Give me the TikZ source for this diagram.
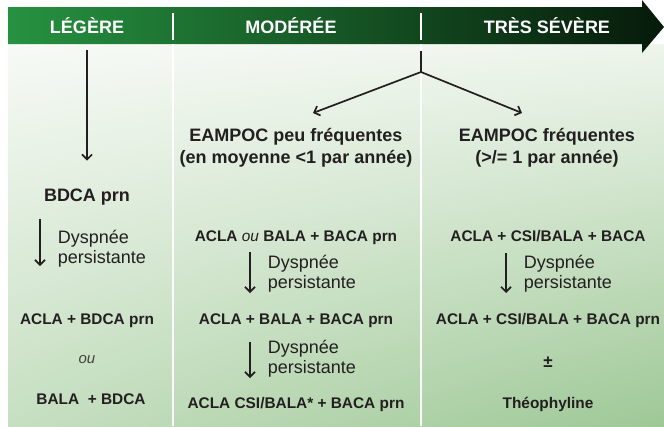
\documentclass[tikz,border=0pt]{standalone}
\usepackage{fontspec}
\setmainfont{Liberation Sans}
\usetikzlibrary{arrows.meta,positioning,shadings}

\definecolor{ink}{RGB}{35,31,32}
\definecolor{barleft}{RGB}{38,146,64}
\definecolor{barright}{RGB}{6,26,10}
\definecolor{paletl}{RGB}{247,250,246}
\definecolor{paletr}{RGB}{238,245,236}
\definecolor{palebl}{RGB}{198,223,193}
\definecolor{palebr}{RGB}{158,200,150}

\begin{document}
\begin{tikzpicture}[x=1pt,y=-1pt,->,>={Straight Barb[length=5pt,width=10pt]},
  line width=1.7pt,color=ink,node distance=83pt,
  every node/.style={text=ink,font=\fontsize{15.4}{18}\selectfont\bfseries,
    text height=11pt,text depth=0pt,inner sep=0pt},
  big node/.style={font=\fontsize{18}{21}\selectfont\bfseries,text height=13pt},
  head node/.style={text=white,font=\fontsize{18}{21}\selectfont\bfseries,text height=13pt},
  note node/.style={anchor=west,align=left,xshift=17pt,
    font=\fontsize{18}{20}\selectfont,text height=,text depth=},
  sep/.style={-,white,line width=2pt}]
  \useasboundingbox (0,0) rectangle (664,426);

  % background and severity bar
  \shade[-,upper left=paletl,upper right=paletr,lower left=palebl,lower right=palebr]
    (8,44) rectangle (664,426);
  \shade[-,left color=barleft,right color=barright]
    (8,7) -- (642,7) -- (642,0) -- (664,27) -- (642,53) -- (642,44) -- (8,44) -- cycle;
  \draw[sep] (173,13) -- (173,40);
  \draw[sep] (421,13) -- (421,40);
  \draw[sep] (173,44) -- (173,426);
  \draw[sep] (421,44) -- (421,426);

  \node[head node] (h1) at (87,27) {LÉGÈRE};
  \node[head node] (h2) at (291,27) {MODÉRÉE};
  \node[head node] (h3) at (547,27) {TRÈS SÉVÈRE};

  % left column
  \node[big node] (1) at (87,195) {BDCA prn};
  \node (2) [below of=1,node distance=124pt] {ACLA + BDCA prn};
  \node[font=\fontsize{15}{18}\selectfont\itshape,text=ink!85] (3) [below of=2,node distance=39pt] {ou};
  \node (4) [below of=3,node distance=41pt,xshift=4pt] {BALA\ \ + BDCA};

  % middle column
  \node[big node] (5) at (296,135) {EAMPOC peu fréquentes};
  \node[big node] (6) [below of=5,node distance=21.5pt] {(en moyenne <1 par année)};
  \node (7) at (296,236) {ACLA {\mdseries\itshape ou} BALA + BACA prn};
  \node (8) [below of=7] {ACLA + BALA + BACA prn};
  \node (9) [below of=8,node distance=84pt] {ACLA CSI/BALA* + BACA prn};

  % right column
  \node[big node] (10) at (547,135) {EAMPOC fréquentes};
  \node[big node] (11) [below of=10,node distance=21.5pt] {(>/= 1 par année)};
  \node (12) at (548,236) {ACLA + CSI/BALA + BACA};
  \node (13) [below of=12] {ACLA + CSI/BALA + BACA prn};
  \node[font=\fontsize{17}{20}\selectfont\bfseries] (14) [below of=13,node distance=43pt] {±};
  \node (15) [below of=14,node distance=41pt] {Théophyline};

  \coordinate (s1) at (87,50);
  \coordinate (t) at (421,51);
  \coordinate (f) at (421,72);
  \coordinate (l) at (313,113);
  \coordinate (r) at (522,113);
  \coordinate (a1) at (40,219);
  \coordinate (a2) at (40,266);
  \coordinate (b1) at (250,252);
  \coordinate (b2) at (250,293);
  \coordinate (c1) at (250,342);
  \coordinate (c2) at (250,378);
  \coordinate (d1) at (506,253);
  \coordinate (d2) at (506,293);

  \draw[shorten >=27pt] (s1) -- (1);
  \draw[-] (t) -- (f);
  \draw (f) -- (l);
  \draw (f) -- (r);
  \path (a1) edge node[note node,yshift=-6pt] {Dyspnée\\persistante} (a2)
        (b1) edge node[note node,yshift=-1pt] {Dyspnée\\persistante} (b2)
        (c1) edge node[note node,yshift=1pt] {Dyspnée\\persistante} (c2)
        (d1) edge node[note node,yshift=-1pt] {Dyspnée\\persistante} (d2);
\end{tikzpicture}
\end{document}
